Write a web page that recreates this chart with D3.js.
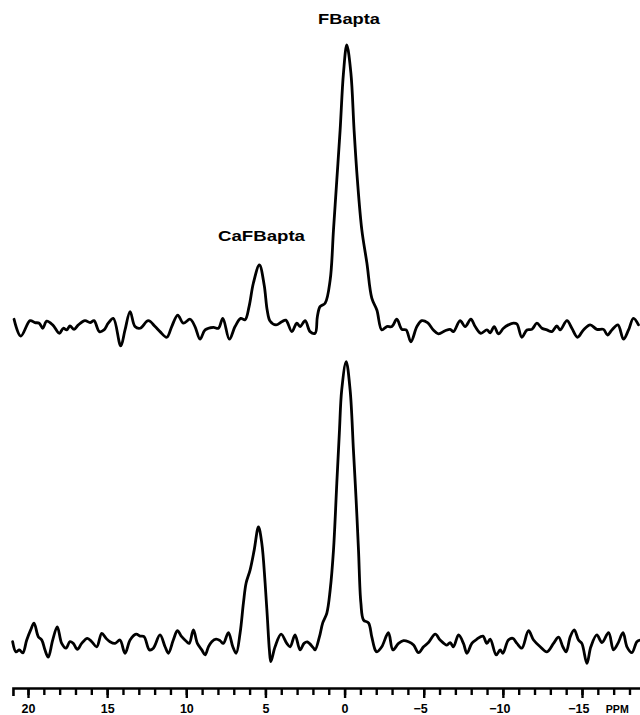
<!DOCTYPE html>
<html>
<head>
<meta charset="utf-8">
<script src="https://cdn.jsdelivr.net/npm/d3@7"></script>
<style>
  html, body { margin: 0; padding: 0; background: #fff; }
  svg { display: block; }
</style>
</head>
<body>
<svg id="chart" width="640" height="715"></svg>
<script>
// ---- data (chemical shift in ppm, intensity relative to FBapta peak = 100) ----
const topTrace = [[20.88,2.4],[20.46,-3.6],[19.87,1.9],[19.56,1.2],[19.29,1.0],[19.07,-0.8],[18.82,1.7],[18.44,0.4],[18.02,-2.6],[17.77,-0.8],[17.55,-1.4],[17.35,0],[17.09,-1.2],[16.82,0.4],[16.40,1.9],[16.08,1.2],[15.83,1.9],[15.49,-2.0],[15.20,-1.4],[14.93,1.0],[14.61,2.7],[14.14,-7.1],[13.87,-1.4],[13.55,5.1],[13.24,-0.2],[12.92,-0.8],[12.40,1.9],[11.97,-0.2],[11.66,-2.0],[11.23,-4.0],[10.92,-0.2],[10.54,3.9],[10.19,1.0],[9.76,2.4],[9.45,-0.2],[9.13,-4.7],[8.81,-1.4],[8.29,-0.5],[7.97,-0.8],[7.69,2.7],[7.28,-4.7],[6.92,-0.2],[6.56,2.7],[6.29,2.2],[6.03,7.0],[5.76,15.3],[5.38,21.7],[5.08,14.6],[4.89,5.7],[4.71,1.8],[4.33,0.4],[3.97,1.5],[3.71,2.1],[3.33,-2.0],[3.02,1.0],[2.81,-0.2],[2.49,1.9],[2.18,-2.0],[1.86,-2.6],[1.72,3.3],[1.55,6.9],[1.23,8.1],[0.91,16.4],[0.70,34.2],[0.49,52.0],[0.28,69.8],[0.07,90.0],[-0.14,100],[-0.40,90.0],[-0.60,69.8],[-0.81,52.0],[-1.09,34.2],[-1.41,22.4],[-1.72,9.9],[-2.04,5.7],[-2.35,-1.4],[-2.67,-0.2],[-2.99,-0.2],[-3.30,2.4],[-3.62,-1.2],[-3.89,-1.4],[-4.19,-5.6],[-4.57,-0.2],[-4.88,1.9],[-5.24,1.2],[-5.61,-1.4],[-5.93,-2.8],[-6.35,-1.7],[-6.67,-1.2],[-6.88,-2.0],[-7.30,1.9],[-7.62,-0.2],[-7.98,2.4],[-8.25,-0.2],[-8.61,-2.6],[-8.99,-1.4],[-9.20,-2.4],[-9.45,-0.2],[-9.72,-2.8],[-10.04,-0.8],[-10.35,0.4],[-10.67,1.0],[-10.89,0.7],[-11.20,-4.0],[-11.52,-1.4],[-11.83,-1.2],[-12.15,1.0],[-12.47,-0.8],[-12.78,-1.4],[-13.10,-2.0],[-13.41,0],[-13.62,-1.4],[-14.05,1.9],[-14.36,-0.8],[-14.72,-4.0],[-15.09,-1.4],[-15.52,0.4],[-15.94,-1.2],[-16.36,-1.2],[-16.61,-3.2],[-16.89,-1.4],[-17.27,0.4],[-17.62,-4.7],[-17.94,-1.4],[-18.25,2.7],[-18.57,0.4]];

const bottomTrace = [[20.97,0.1],[20.76,-3.5],[20.55,-2.8],[20.33,-3.9],[20.08,0.7],[19.83,4.3],[19.62,6.7],[19.35,1.9],[19.13,0.7],[18.93,-2.8],[18.72,-5.4],[18.44,0.7],[18.15,5.4],[17.87,-0.5],[17.60,-2.2],[17.35,0.1],[17.14,-0.5],[16.88,-2.6],[16.61,-0.5],[16.25,1.3],[15.97,0.1],[15.66,-1.7],[15.34,3.1],[15.07,1.3],[14.82,0.1],[14.50,-0.5],[14.19,0.7],[13.87,-4.0],[13.55,0.7],[13.17,2.8],[12.92,2.1],[12.67,1.9],[12.33,-2.8],[12.08,-2.2],[11.66,2.5],[11.34,-1.7],[11.13,-4.0],[10.82,0.7],[10.56,4.0],[10.29,1.9],[9.97,0.1],[9.81,-0.5],[9.55,4.3],[9.30,-0.5],[9.02,-2.8],[8.81,-4.6],[8.60,-1.7],[8.39,0.1],[8.12,1.0],[7.87,0.5],[7.66,-0.5],[7.34,3.3],[7.06,-1.7],[6.85,-4.0],[6.60,3.2],[6.39,13.9],[6.22,21.0],[5.97,25.6],[5.71,32.7],[5.44,41.0],[5.23,35.2],[5.02,21.0],[4.88,8.9],[4.75,-2.8],[4.66,-7.0],[4.39,-1.7],[4.01,2.8],[3.65,-0.5],[3.44,-1.7],[3.13,2.5],[2.81,-2.8],[2.56,-0.5],[2.35,0],[1.97,-2.1],[1.86,-2.8],[1.59,1.8],[1.38,6.8],[1.12,10.3],[0.91,18.5],[0.70,32.7],[0.49,56.6],[0.33,74.4],[0.18,89.7],[-0.10,99.8],[-0.35,89.7],[-0.56,68.3],[-0.73,50.5],[-0.88,32.7],[-1.03,13.9],[-1.20,7.8],[-1.51,6.8],[-1.72,1.8],[-1.93,-2.8],[-2.04,-3.5],[-2.35,-1.7],[-2.77,3.3],[-3.05,-2.8],[-3.41,-0.5],[-3.72,0.5],[-4.04,0.1],[-4.36,-1.1],[-4.67,-3.8],[-4.99,-1.7],[-5.30,-0.2],[-5.73,2.8],[-6.04,0.7],[-6.46,-1.1],[-6.67,-0.2],[-6.88,-1.7],[-7.20,2.5],[-7.51,-0.5],[-7.73,-4.0],[-8.04,-0.5],[-8.36,1.0],[-8.74,2.1],[-8.99,-0.5],[-9.20,1.0],[-9.58,-4.6],[-9.83,-2.8],[-10.00,-4.0],[-10.35,0.7],[-10.63,1.3],[-10.89,-0.5],[-11.20,-2.2],[-11.62,4.0],[-11.94,0.7],[-12.36,-1.7],[-12.78,-3.5],[-13.20,-0.5],[-13.52,1.7],[-13.79,-1.7],[-14.00,-3.5],[-14.26,1.9],[-14.51,4.3],[-14.78,0.7],[-14.99,-0.5],[-15.31,-7.6],[-15.56,-1.7],[-15.94,2.5],[-16.26,-0.2],[-16.68,3.3],[-16.99,-2.8],[-17.27,-0.5],[-17.59,3.3],[-17.84,-1.7],[-18.15,-3.8],[-18.47,0.1],[-18.68,0.7]];

const majorTicks = [20, 15, 10, 5, 0, -5, -10, -15];
const minorTicks = d3.range(-18, 21, 1);
const axisUnit = "PPM";
const peakLabels = ["FBapta", "CaFBapta"];
const peakLabelPpm = [-0.28, 5.25];
const peakLabelIntensity = [107.5, 30.4];

// ---- scales ----
const svg = d3.select("#chart");
const x = d3.scaleLinear().domain([20, -15]).range([28, 582]);
const xAxisScale = x.copy().domain([20.95, -19.2]).range([x(20.95), x(-19.2)]);
const yTop = d3.scaleLinear().domain([0, 100]).range([326, 45]);
const yBottom = d3.scaleLinear().domain([0, 100]).range([642, 361]);

const lineTop = d3.line().x(d => x(d[0])).y(d => yTop(d[1])).curve(d3.curveCatmullRom.alpha(0.5));
const lineBottom = d3.line().x(d => x(d[0])).y(d => yBottom(d[1])).curve(d3.curveCatmullRom.alpha(0.5));

svg.append("path").datum(topTrace).attr("d", lineTop)
  .attr("fill", "none").attr("stroke", "#000").attr("stroke-width", 2.8)
  .attr("stroke-linejoin", "round").attr("stroke-linecap", "round");
svg.append("path").datum(bottomTrace).attr("d", lineBottom)
  .attr("fill", "none").attr("stroke", "#000").attr("stroke-width", 2.8)
  .attr("stroke-linejoin", "round").attr("stroke-linecap", "round");

// ---- peak labels ----
const labelWidths = [62, 87];
svg.selectAll("text.peak").data(peakLabels).join("text")
  .attr("class", "peak")
  .attr("x", (d, i) => x(peakLabelPpm[i]))
  .attr("y", (d, i) => yTop(peakLabelIntensity[i]))
  .attr("text-anchor", "middle")
  .attr("font-family", "Liberation Sans, Arial, sans-serif")
  .attr("font-weight", "bold")
  .attr("font-size", 15.5)
  .attr("textLength", (d, i) => labelWidths[i])
  .attr("lengthAdjust", "spacingAndGlyphs")
  .text(d => d);

// ---- axis ----
const axisY = 688;
const gMinor = svg.append("g").attr("transform", `translate(0,${axisY})`)
  .call(d3.axisBottom(xAxisScale).tickValues(minorTicks).tickSize(7).tickSizeOuter(8).tickFormat(""));
gMinor.select(".domain").attr("stroke-width", 2.6);
gMinor.selectAll(".tick line").attr("stroke-width", 2.4);

const gMajor = svg.append("g").attr("transform", `translate(0,${axisY})`)
  .call(d3.axisBottom(xAxisScale).tickValues(majorTicks).tickSize(10).tickPadding(6)
    .tickFormat(d => d < 0 ? "\u2212" + Math.abs(d) : String(d)));
gMajor.select(".domain").remove();
gMajor.selectAll(".tick line").attr("stroke-width", 2.4);
gMajor.selectAll(".tick text")
  .attr("font-family", "Liberation Sans, Arial, sans-serif")
  .attr("font-weight", "bold")
  .attr("font-size", 12.5)
  .attr("fill", "#000")
  .attr("text-anchor", "end")
  .attr("dx", d => (String(Math.abs(d)).length * 7) / 2 + "px");

svg.append("text")
  .attr("x", x(-16.5))
  .attr("y", axisY + 25)
  .attr("font-family", "Liberation Sans, Arial, sans-serif")
  .attr("font-weight", "bold")
  .attr("font-size", 11)
  .attr("textLength", 23)
  .attr("lengthAdjust", "spacingAndGlyphs")
  .text(axisUnit);
</script>
</body>
</html>
